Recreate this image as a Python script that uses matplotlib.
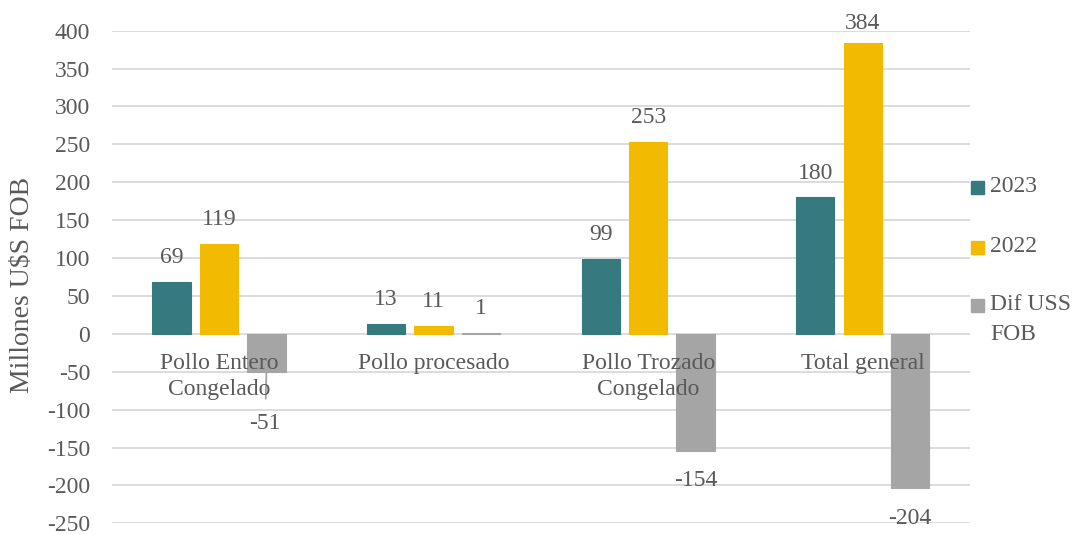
import numpy as np
import matplotlib.pyplot as plt
from matplotlib.patches import Rectangle

# --- Data ---
categories = ['Pollo Entero\nCongelado', 'Pollo procesado', 'Pollo Trozado\nCongelado', 'Total general']
series_names = ['2023', '2022', 'Dif USS FOB']
v2023 = [69, 13, 99, 180]
v2022 = [119, 11, 253, 384]
vdif = [-51, 1, -154, -204]
yticks = np.arange(-250, 401, 50)

colors = ['#367A80', '#F2BA00', '#A5A5A5']
txt = '#595959'

plt.rcParams['font.family'] = ['Liberation Serif', 'DejaVu Serif']
plt.rcParams['axes.unicode_minus'] = False
fs = 17

W, H = 1072, 535
fig = plt.figure(figsize=(W / 100, H / 100), dpi=100)
ax = fig.add_axes([111.7 / W, 1 - 523.3 / H, (970 - 111.7) / W, (523.3 - 30.7) / H])

x = np.arange(len(categories))
width = 0.178
offset = 0.221

ax.set_ylim(-250, 400)
ax.set_xlim(-0.5, len(categories) - 0.5)
ax.set_yticks(yticks)
ax.yaxis.grid(True, color='#D9D9D9', linewidth=1.3)
ax.set_axisbelow(True)
for s in ax.spines.values():
    s.set_visible(False)
ax.set_xticks([])
ax.tick_params(axis='y', length=0, pad=15.5, labelsize=fs, labelcolor=txt)

# labels are kept inside the chart area, like Excel does
top_px = H - 23.7
pt = 72 / 100

all_vals = [v2023, v2022, vdif]
for i, (vals, c) in enumerate(zip(all_vals, colors)):
    xs = x + (i - 1) * offset
    ax.bar(xs, vals, width, color=c, edgecolor=c, linewidth=0.8, zorder=3)
    for xi, v in zip(xs, vals):
        if v == -51:
            # label moved by hand in the original, with a leader line
            ax.annotate(str(v), xy=(xi, v), xytext=(-1, -36.5), textcoords='offset points',
                        ha='center', va='center', fontsize=fs, color=txt, zorder=6,
                        arrowprops=dict(arrowstyle='-', color='#A6A6A6', lw=1.3,
                                        shrinkA=8, shrinkB=0))
        elif v >= 0:
            y_px = ax.transData.transform((0, v))[1]
            off = min(24.3, top_px - y_px) * pt
            ax.annotate(str(v), xy=(xi, v), xytext=(0, off), textcoords='offset points',
                        ha='center', va='center', fontsize=fs, color=txt)
        else:
            ax.annotate(str(v), xy=(xi, v), xytext=(0, -21.5), textcoords='offset points',
                        ha='center', va='center', fontsize=fs, color=txt)

# category labels hang under the zero line, drawn over the bars
for xi, cat in zip(x, categories):
    ax.annotate(cat, xy=(xi, 0), xytext=(0, -14), textcoords='offset points',
                ha='center', va='top', fontsize=fs, color=txt, linespacing=1.28,
                zorder=6)

fig.text(23 / W, 1 - 285 / H, 'Millones U$S FOB', rotation=90, fontsize=20,
         color=txt, ha='center', va='center')

# legend on the right
leg_y = [187, 247, 305]
for name, c, ly in zip(series_names, colors, leg_y):
    fig.patches.append(Rectangle((971 / W, 1 - (ly + 6.5) / H), 13 / W, 13 / H,
                                 transform=fig.transFigure, color=c, figure=fig))
    words = name.split(' ')
    lines = [name] if len(words) < 3 else [' '.join(words[:2]), ' '.join(words[2:])]
    for k, line in enumerate(lines):
        fig.text(990 / W, 1 - (ly + 29 * k) / H, line, fontsize=fs, color=txt,
                 ha='left', va='center')

fig.savefig('out.png', dpi=100)
